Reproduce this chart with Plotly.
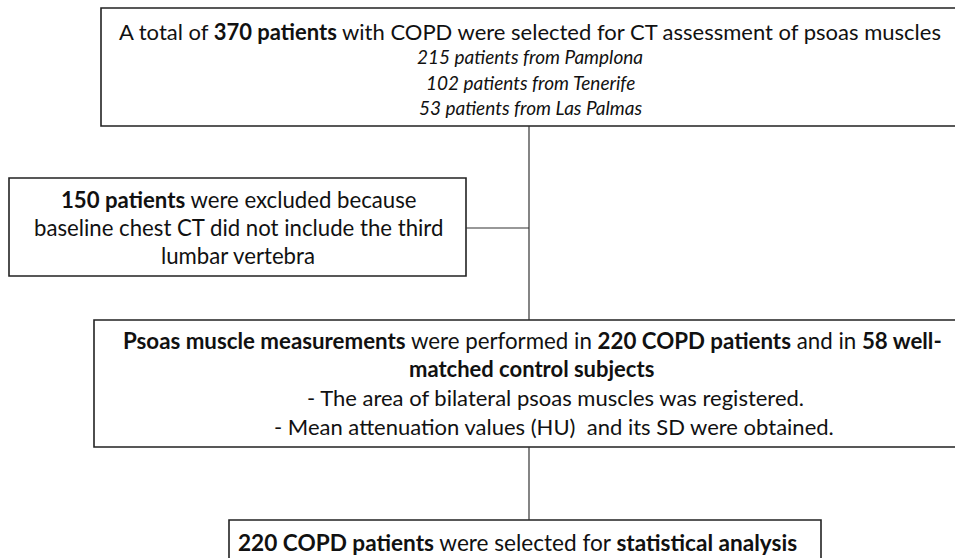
import plotly.graph_objects as go

# ---- content (flowchart text) ----
top_lines = [
    "A total of <b>370 patients</b> with COPD were selected for CT assessment of psoas muscles",
    "<i>215 patients from Pamplona</i>",
    "<i>102 patients from Tenerife</i>",
    "<i>53 patients from Las Palmas</i>",
]
excl_lines = [
    "<b>150 patients</b> were excluded because",
    "baseline chest CT did not include the third",
    "lumbar vertebra",
]
meas_lines = [
    "<b>Psoas muscle measurements</b> were performed in <b>220 COPD patients</b> and in <b>58 well-</b>",
    "<b>matched control subjects</b>",
    "- The area of bilateral psoas muscles was registered.",
    "- Mean attenuation values (HU)  and its SD were obtained.",
]
final_lines = [
    "<b>220 COPD patients</b> were selected for <b>statistical analysis</b>",
]

# ---- layout geometry (pixels) ----
W, H = 955, 558
FONT = "Lato"
FS = 22
FS_IT = 19
INK = "#111111"

boxes = [
    dict(x0=101, y0=8, x1=962, y1=126),
    dict(x0=9, y0=178, x1=466, y1=276),
    dict(x0=94, y0=320, x1=962, y1=447),
    dict(x0=229, y0=520, x1=821, y1=575),
]
connectors = [
    dict(x0=529, y0=126, x1=529, y1=320),
    dict(x0=466, y0=228, x1=529, y1=228),
    dict(x0=529, y0=447, x1=529, y1=520),
]

fig = go.Figure()
fig.add_trace(go.Scatter(x=[0, W], y=[0, H], mode="markers",
                         marker=dict(opacity=0), hoverinfo="skip", showlegend=False))

for b in boxes:
    fig.add_shape(type="rect", **b, line=dict(color="#222222", width=1.6),
                  fillcolor="rgba(0,0,0,0)")
for c in connectors:
    fig.add_shape(type="line", **c, line=dict(color="#333333", width=1.2))

def put(lines, xs, ys, sizes):
    for t, x, y, s in zip(lines, xs, ys, sizes):
        fig.add_annotation(x=x, y=y, text=t, showarrow=False, xanchor="center",
                           yanchor="middle", font=dict(family=FONT, size=s, color=INK))

put(top_lines, [530, 530, 530, 530], [31, 56, 82, 107], [FS, FS_IT, FS_IT, FS_IT])
put(excl_lines, [238, 238, 238], [199, 227, 255], [22.2, 22.2, 22.2])
put(meas_lines, [532, 531, 555, 554], [340, 368, 397, 426], [22.3, FS, FS, FS])
put(final_lines, [517], [542], [22.6])

fig.update_xaxes(range=[0, W], visible=False, fixedrange=True)
fig.update_yaxes(range=[H, 0], visible=False, fixedrange=True)
fig.update_layout(width=W, height=H, margin=dict(l=0, r=0, t=0, b=0),
                  plot_bgcolor="white", paper_bgcolor="white", showlegend=False)
fig.write_html("out.html", config={"displayModeBar": False},
               post_script="document.body.style.margin='0';document.body.style.overflow='hidden';")
